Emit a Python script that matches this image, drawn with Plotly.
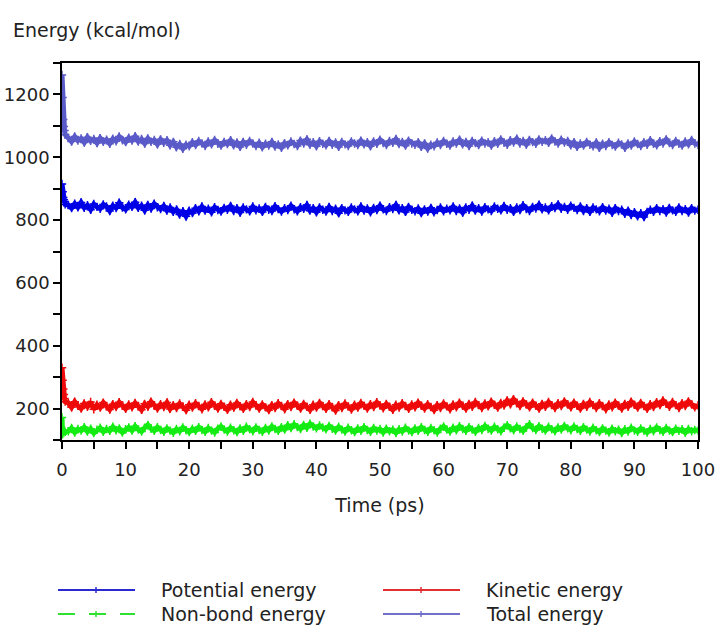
import plotly.graph_objects as go

# Time axis (ps): finer sampling at the start, then every 0.5 ps
time_ps = [0, 0.1, 0.2, 0.3, 0.4, 0.5] + [i * 0.5 for i in range(2, 201)]

potential = [915, 890, 872, 865, 858, 850,
    848, 838, 852, 841, 856, 839, 847, 833, 851, 842,
    836, 850, 843, 829, 846, 838, 855, 840, 834, 849,
    842, 857, 839, 846, 831, 848, 837, 852, 841, 835,
    845, 830, 840, 826, 834, 818, 828, 812, 830, 822,
    838, 828, 843, 830, 836, 825, 841, 832, 827, 839,
    833, 845, 829, 838, 824, 840, 834, 828, 843, 831,
    837, 826, 842, 833, 829, 844, 835, 827, 838, 832,
    846, 834, 828, 841, 836, 848, 830, 838, 825, 840,
    833, 827, 842, 829, 836, 822, 838, 831, 826, 840,
    834, 828, 843, 830, 837, 825, 839, 832, 846, 834,
    829, 841, 835, 848, 831, 838, 826, 842, 833, 828,
    837, 822, 834, 827, 839, 825, 832, 840, 828, 836,
    831, 843, 829, 837, 824, 840, 833, 846, 830, 838,
    827, 841, 834, 829, 843, 836, 831, 845, 833, 838,
    826, 840, 832, 847, 835, 829, 842, 837, 849, 834,
    840, 831, 844, 838, 850, 836, 842, 833, 846, 839,
    832, 843, 829, 838, 826, 840, 834, 828, 841, 830,
    836, 823, 838, 829, 833, 820, 830, 816, 825, 812,
    822, 810, 826, 833, 826, 838, 829, 835, 824, 839,
    831, 826, 840, 829, 835, 824, 838, 830, 833]

kinetic = [330, 290, 262, 245, 232, 222,
    218, 204, 222, 209, 200, 216, 206, 221, 198, 212,
    203, 219, 207, 197, 214, 205, 220, 210, 199, 213,
    204, 218, 208, 196, 215, 206, 222, 209, 200, 214,
    205, 219, 199, 211, 202, 216, 207, 195, 212, 203,
    217, 208, 198, 213, 204, 220, 209, 200, 215, 206,
    196, 212, 203, 218, 207, 199, 214, 205, 221, 210,
    200, 213, 204, 195, 211, 202, 217, 208, 198, 214,
    205, 219, 209, 200, 215, 206, 196, 212, 203, 218,
    208, 199, 214, 205, 194, 211, 202, 216, 207, 197,
    212, 203, 218, 209, 200, 214, 205, 220, 210, 201,
    215, 206, 196, 212, 203, 217, 208, 199, 213, 204,
    219, 209, 200, 214, 205, 195, 211, 202, 216, 207,
    198, 213, 204, 219, 209, 200, 215, 206, 221, 211,
    202, 216, 207, 222, 212, 203, 218, 210, 226, 214,
    230, 217, 208, 223, 213, 204, 219, 209, 200, 215,
    206, 221, 211, 202, 217, 208, 223, 213, 204, 219,
    209, 200, 215, 206, 221, 211, 202, 217, 208, 198,
    213, 204, 219, 210, 200, 215, 206, 222, 212, 203,
    218, 208, 199, 214, 205, 220, 211, 226, 215, 206,
    221, 211, 202, 217, 208, 223, 213, 204, 210]

nonbond = [172, 118, 128, 124, 130, 126,
    128, 138, 124, 135, 130, 141, 127, 136, 122, 133,
    139, 126, 135, 129, 142, 131, 137, 124, 134, 140,
    130, 144, 133, 127, 139, 148, 136, 129, 141, 132,
    126, 137, 130, 123, 135, 128, 140, 131, 125, 136,
    129, 141, 132, 126, 138, 130, 124, 136, 143, 133,
    127, 139, 131, 125, 137, 129, 142, 134, 128, 140,
    132, 126, 138, 130, 143, 135, 129, 141, 133, 147,
    138, 150, 141, 135, 148, 139, 152, 143, 137, 146,
    140, 134, 145, 136, 130, 142, 133, 127, 139, 131,
    125, 137, 129, 141, 132, 126, 138, 130, 135, 124,
    136, 128, 133, 122, 134, 127, 139, 130, 125, 137,
    129, 141, 132, 126, 138, 131, 124, 136, 143, 133,
    127, 139, 131, 144, 135, 129, 141, 133, 126, 138,
    132, 145, 136, 130, 142, 134, 128, 140, 147, 137,
    131, 143, 135, 129, 141, 150, 138, 132, 144, 136,
    130, 142, 134, 128, 140, 133, 145, 137, 131, 143,
    135, 129, 141, 133, 127, 139, 131, 125, 137, 130,
    124, 136, 128, 133, 122, 134, 127, 139, 130, 126,
    137, 129, 124, 135, 128, 140, 131, 126, 138, 130,
    125, 136, 129, 134, 123, 135, 128, 132, 130]

total = [1262, 1190, 1120, 1098, 1085, 1072,
    1062, 1050, 1066, 1053, 1060, 1047, 1064, 1052, 1058, 1045,
    1061, 1049, 1056, 1043, 1059, 1051, 1066, 1054, 1048, 1062,
    1053, 1067, 1050, 1058, 1044, 1060, 1049, 1055, 1041, 1057,
    1046, 1054, 1038, 1049, 1032, 1042, 1027, 1040, 1035, 1048,
    1039, 1052, 1044, 1036, 1050, 1041, 1055, 1043, 1037, 1049,
    1042, 1054, 1038, 1047, 1033, 1049, 1040, 1052, 1044, 1036,
    1046, 1032, 1043, 1037, 1049, 1034, 1041, 1030, 1045, 1038,
    1050, 1042, 1036, 1053, 1044, 1057, 1040, 1048, 1035, 1051,
    1043, 1038, 1052, 1040, 1047, 1033, 1049, 1041, 1036, 1050,
    1044, 1039, 1053, 1041, 1048, 1035, 1050, 1043, 1056, 1045,
    1039, 1052, 1046, 1058, 1042, 1049, 1037, 1053, 1044, 1040,
    1048, 1033, 1044, 1028, 1040, 1035, 1047, 1039, 1052, 1043,
    1037, 1050, 1044, 1056, 1041, 1049, 1036, 1052, 1045, 1039,
    1053, 1044, 1048, 1037, 1051, 1043, 1057, 1046, 1040, 1054,
    1047, 1059, 1044, 1052, 1040, 1055, 1048, 1043, 1057, 1049,
    1054, 1046, 1060, 1050, 1044, 1056, 1047, 1052, 1038, 1048,
    1033, 1044, 1037, 1049, 1040, 1035, 1047, 1030, 1043, 1036,
    1048, 1039, 1034, 1046, 1041, 1030, 1044, 1037, 1050, 1042,
    1036, 1048, 1040, 1054, 1043, 1038, 1051, 1044, 1057, 1045,
    1039, 1052, 1043, 1037, 1050, 1041, 1055, 1044, 1040]

series_names = ["Potential energy", "Kinetic energy", "Non-bond energy", "Total energy"]
series_values = [potential, kinetic, nonbond, total]
series_colors = ["#0000e6", "#ee0a0a", "#14ec14", "#5a5ac8"]
legend_colors = ["#2a2ad0", "#e03030", "#30e030", "#7070c8"]
legend_dash = ["solid", "solid", "17px,14px", "solid"]

FONT = "DejaVu Sans"
TXT = "#222222"
W, H = 717, 630
ML, MR, MT, MB = 62, 19, 63, 190
PW, PH = W - ML - MR, H - MT - MB


def px_x(x):
    return (x - ML) / PW


def px_y(y):
    return (H - MB - y) / PH


fig = go.Figure()
for name, vals, col in zip(series_names, series_values, series_colors):
    fig.add_trace(go.Scatter(
        x=time_ps, y=vals, name=name, mode="lines+markers", showlegend=False,
        line=dict(color=col, width=5),
        marker=dict(symbol="cross-thin", size=6, line=dict(color=col, width=1.5)),
    ))

# Custom legend (two columns, two rows) below the plot
shapes = []
annotations = [dict(
    text="Energy (kcal/mol)", xref="paper", yref="paper",
    x=px_x(11), y=px_y(30), xanchor="left", yanchor="middle",
    showarrow=False, font=dict(family=FONT, size=19, color=TXT),
)]
leg_pos = [(58, 590), (383, 590), (58, 614), (383, 614)]
for (lx, ly), name, col, dash in zip(leg_pos, series_names, legend_colors, legend_dash):
    shapes.append(dict(type="line", xref="paper", yref="paper",
                       x0=px_x(lx), x1=px_x(lx + 77), y0=px_y(ly), y1=px_y(ly),
                       line=dict(color=col, width=2, dash=dash)))
    cx = lx + 38
    shapes.append(dict(type="line", xref="paper", yref="paper",
                       x0=px_x(cx), x1=px_x(cx), y0=px_y(ly - 3), y1=px_y(ly + 3),
                       line=dict(color=col, width=1.5)))
    if dash != "solid":
        shapes.append(dict(type="line", xref="paper", yref="paper",
                           x0=px_x(cx - 5), x1=px_x(cx + 3), y0=px_y(ly), y1=px_y(ly),
                           line=dict(color=col, width=2)))
    annotations.append(dict(
        text=name, xref="paper", yref="paper",
        x=px_x(lx + 101), y=px_y(ly), xanchor="left", yanchor="middle",
        showarrow=False, font=dict(family=FONT, size=19, color=TXT),
    ))

fig.update_layout(
    width=W, height=H,
    margin=dict(l=ML, r=MR, t=MT, b=MB, autoexpand=False),
    paper_bgcolor="white", plot_bgcolor="white",
    font=dict(family=FONT, size=18, color=TXT),
    showlegend=False,
    shapes=shapes,
    annotations=annotations,
)
fig.update_xaxes(
    range=[0, 100], tickvals=[0, 10, 20, 30, 40, 50, 60, 70, 80, 90, 100],
    ticks="outside", ticklen=7, tickwidth=1.5, tickcolor="black",
    minor=dict(dtick=5, tick0=0, ticks="outside", ticklen=7, tickwidth=1.5, tickcolor="black"),
    showline=True, linecolor="black", linewidth=1.5, mirror=True,
    showgrid=False, zeroline=False, automargin=False,
    ticklabelstandoff=6,
    tickfont=dict(family=FONT, size=18, color=TXT),
    title=dict(text="Time (ps)", standoff=19, font=dict(family=FONT, size=19, color=TXT)),
)
fig.update_yaxes(
    range=[100, 1300], tickvals=[200, 400, 600, 800, 1000, 1200],
    ticks="outside", ticklen=7, tickwidth=1.5, tickcolor="black",
    minor=dict(dtick=100, tick0=0, ticks="outside", ticklen=7, tickwidth=1.5, tickcolor="black"),
    showline=True, linecolor="black", linewidth=1.5, mirror=True,
    showgrid=False, zeroline=False, automargin=False,
    tickfont=dict(family=FONT, size=18, color=TXT),
)

fig.write_html("out.html")
